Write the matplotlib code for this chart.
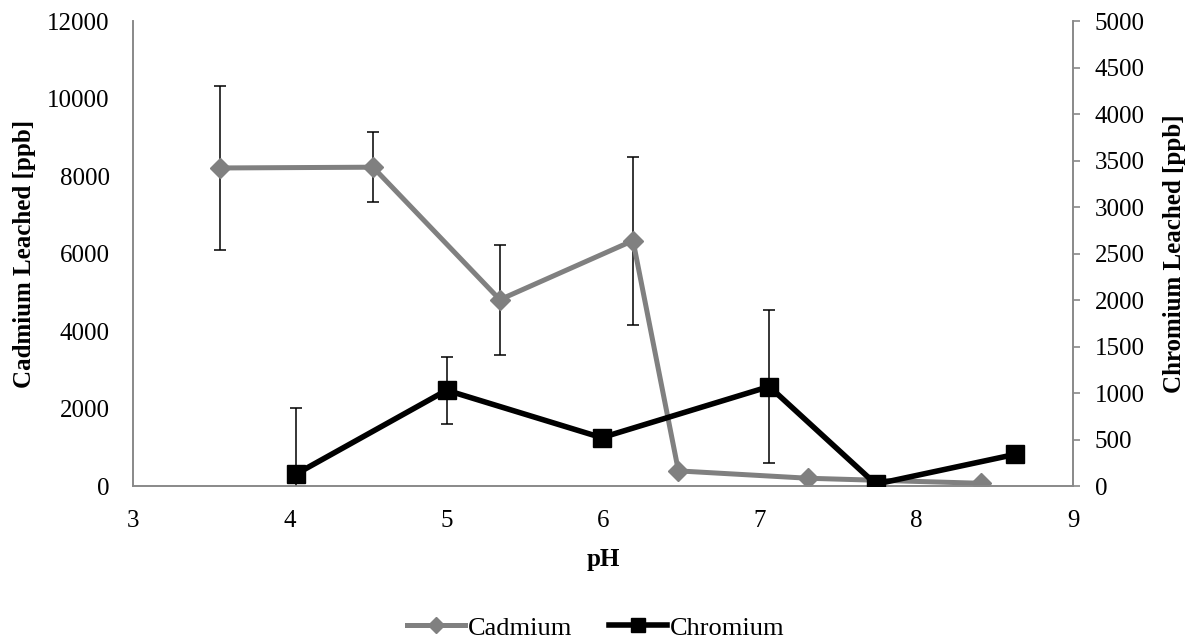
import matplotlib.pyplot as plt
import numpy as np

plt.rcParams['font.family'] = ['Liberation Serif', 'DejaVu Serif']

# leaching results vs pH
cd_ph = [3.55, 4.53, 5.34, 6.19, 6.48, 7.31, 8.41]
cd_ppb = [8210, 8230, 4810, 6335, 390, 200, 70]
cd_err = [2120, 900, 1420, 2170, 0, 0, 0]

cr_ph = [4.04, 5.00, 5.99, 7.06, 7.74, 8.63]
cr_ppb = [130, 1030, 520, 1070, 20, 340]
cr_err = [710, 360, 0, 825, 0, 0]

grey = '#808080'
spine_c = '#898989'
fs = 18


def main():
    fig = plt.figure(figsize=(11.91, 6.41), dpi=100)
    ax = fig.add_axes([0.112, 0.2418, 0.789, 0.7252])
    ax2 = ax.twinx()

    ax.errorbar(cd_ph, cd_ppb, yerr=cd_err, fmt='none', ecolor='black',
                elinewidth=1.1, capsize=4.3, capthick=1.1, zorder=2)
    ax.plot(cd_ph, cd_ppb, color=grey, lw=3.6, marker='D', ms=10,
            label='Cadmium', zorder=3)

    ax2.errorbar(cr_ph, cr_ppb, yerr=cr_err, fmt='none', ecolor='black',
                 elinewidth=1.1, capsize=4.3, capthick=1.1, zorder=2)
    ax2.plot(cr_ph, cr_ppb, color='black', lw=4, marker='s', ms=13,
             label='Chromium', zorder=3)

    ax.set_xlim(3, 9)
    ax.set_ylim(0, 12000)
    ax2.set_ylim(0, 5000)
    ax.set_xticks(np.arange(3, 10, 1))
    ax.set_yticks(np.arange(0, 12001, 2000))
    ax2.set_yticks(np.arange(0, 5001, 500))

    for a in (ax, ax2):
        a.spines['top'].set_visible(False)
        for s in ('left', 'right', 'bottom'):
            a.spines[s].set_color(spine_c)
            a.spines[s].set_linewidth(1.2)
    ax.tick_params(axis='x', length=0, pad=17, labelsize=fs)
    ax.tick_params(axis='y', length=0, pad=17, labelsize=fs)
    ax2.tick_params(axis='y', length=5, width=1.2, color=spine_c,
                    pad=10.5, labelsize=fs)

    ax.set_xlabel('pH', fontsize=fs, fontweight='bold', labelpad=12)
    ax.set_ylabel('Cadmium Leached [ppb]', fontsize=fs, fontweight='bold', labelpad=8)
    ax2.set_ylabel('Chromium Leached [ppb]', fontsize=fs, fontweight='bold', labelpad=13)

    h1, l1 = ax.get_legend_handles_labels()
    h2, l2 = ax2.get_legend_handles_labels()
    fig.legend(h1 + h2, l1 + l2, loc='lower center', bbox_to_anchor=(0.5, -0.035),
               ncol=2, frameon=False, fontsize=19, handlelength=2.2,
               columnspacing=1.4, handletextpad=0.1, markerscale=0.8)

    fig.savefig('out.png', dpi=100)


if __name__ == "__main__":
    main()
